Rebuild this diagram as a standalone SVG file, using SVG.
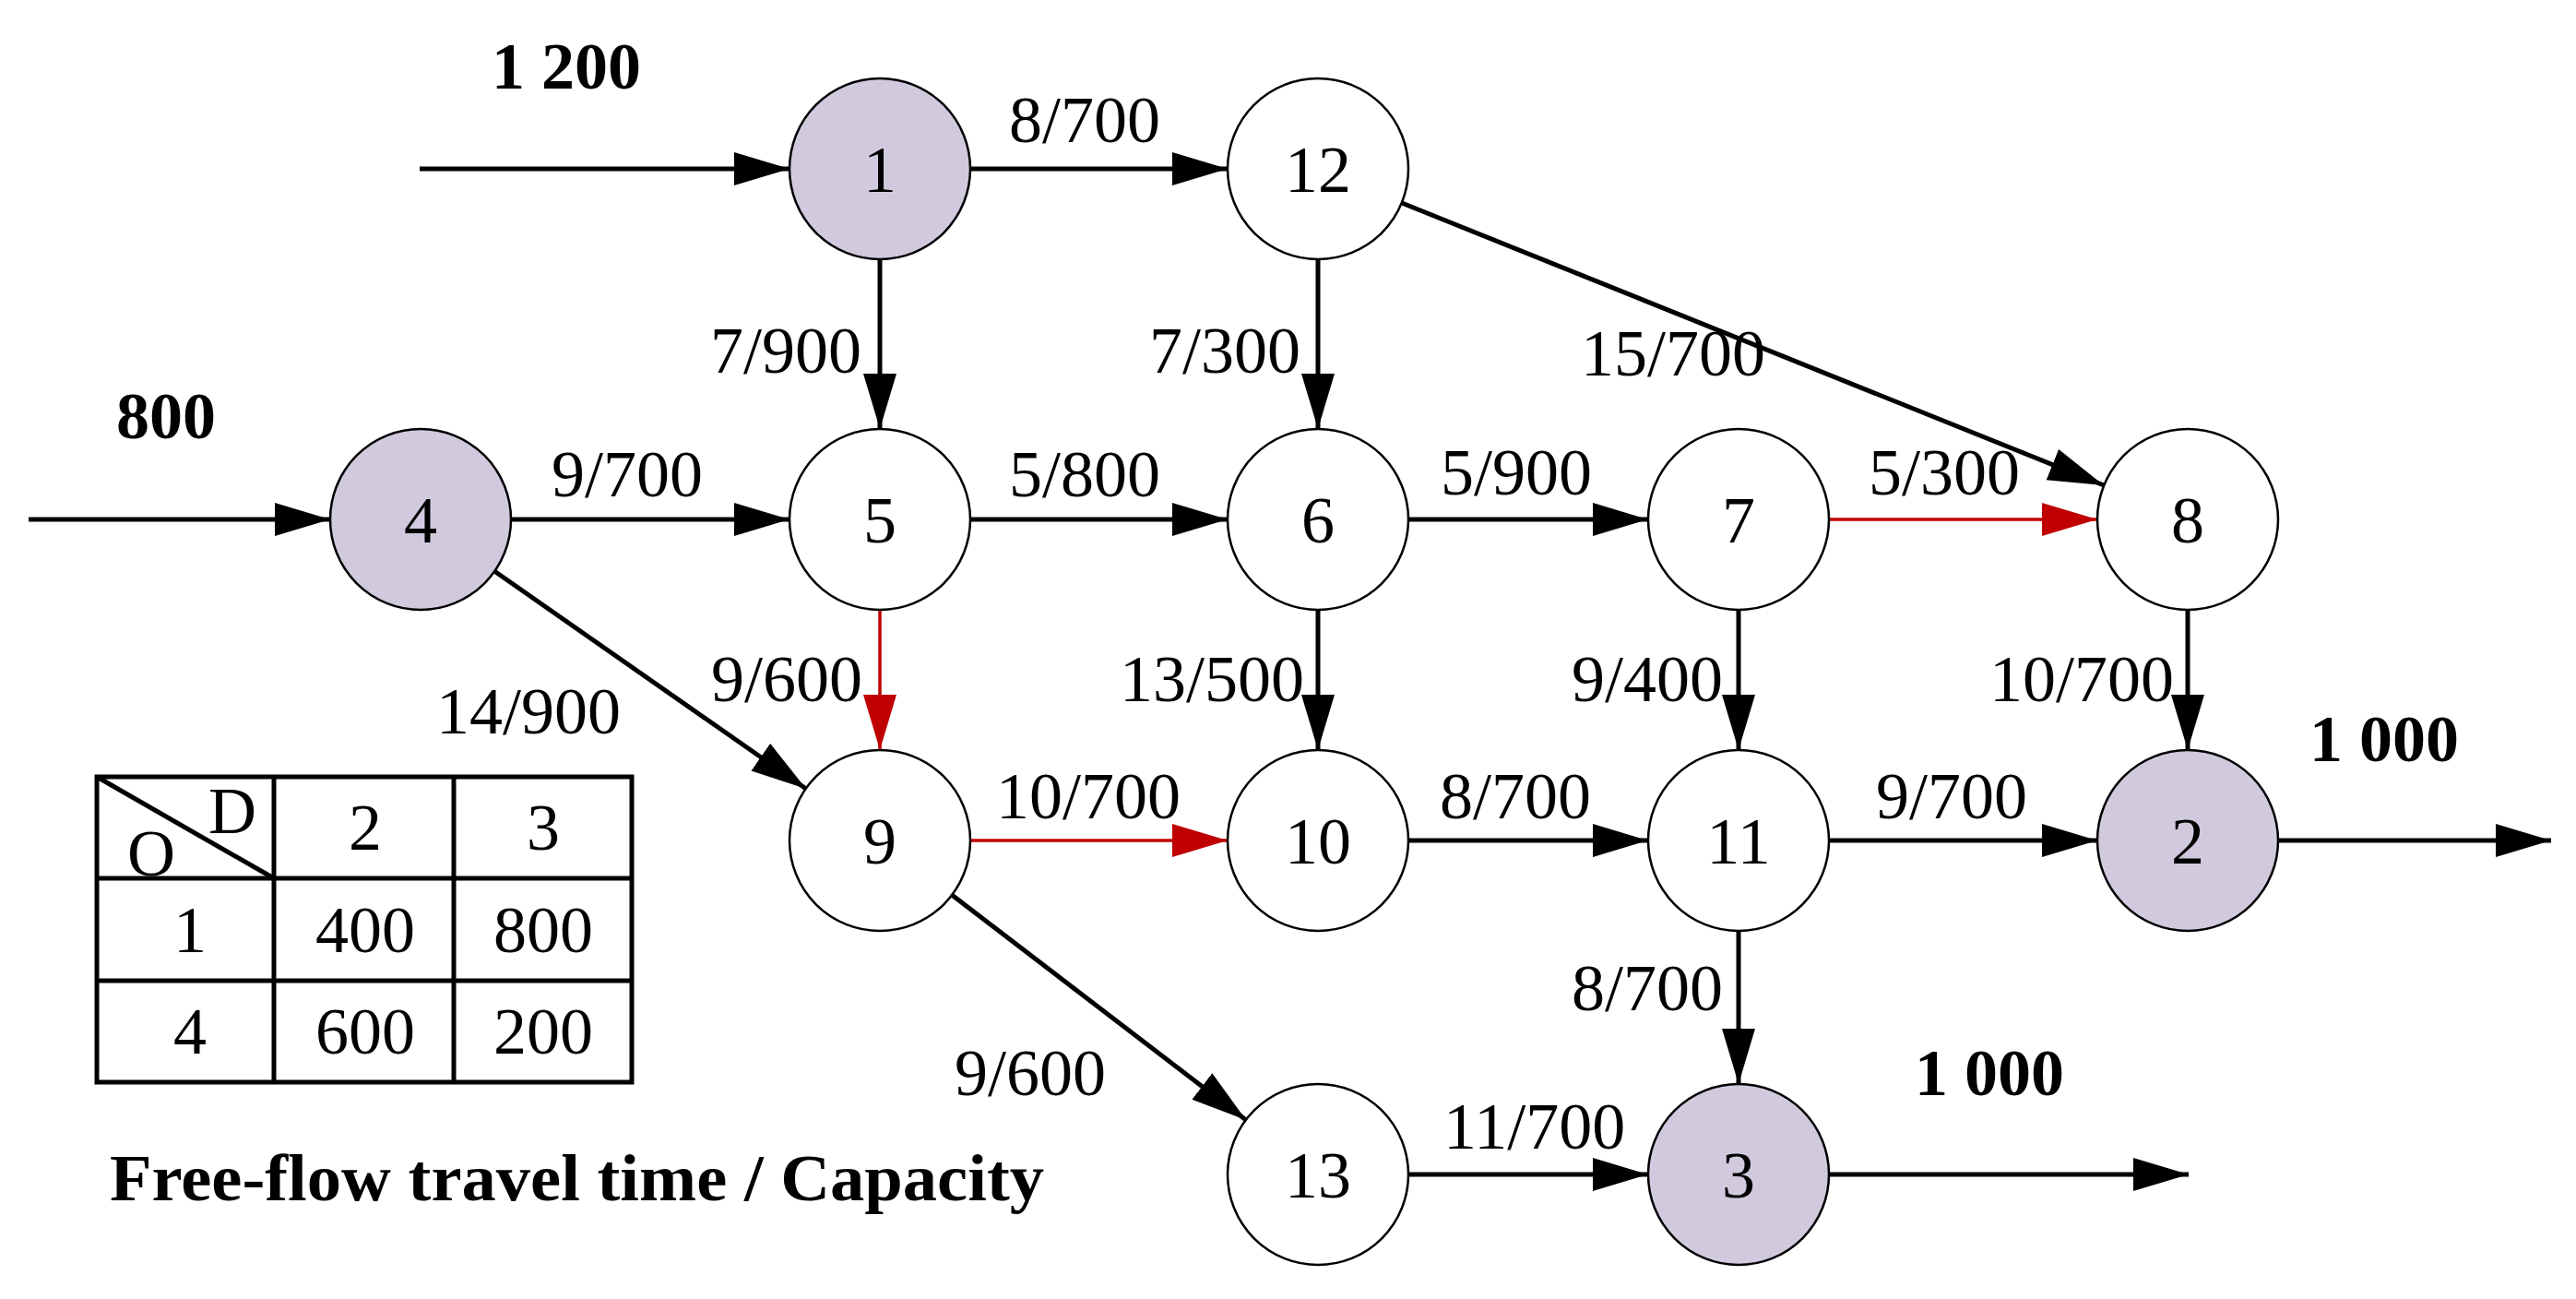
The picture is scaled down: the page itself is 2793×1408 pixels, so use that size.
<svg xmlns="http://www.w3.org/2000/svg" width="2793" height="1408" viewBox="0 0 2793 1408">
<style>
.n{fill:#fff;stroke:#000;stroke-width:2.5}
.o{fill:#d1cadf;stroke:#000;stroke-width:2.5}
.t{font-family:"Liberation Serif","Times New Roman",serif;font-size:72px;fill:#000}
.c{text-anchor:middle}
.b{font-weight:bold}
.e{stroke:#000;stroke-width:5;fill:none;marker-end:url(#ah)}
.r{stroke:#c00000;stroke-width:3.5;fill:none;marker-end:url(#ahr)}
.g{stroke:#000;stroke-width:5;fill:none}
</style>
<defs>
<marker id="ah" markerUnits="userSpaceOnUse" markerWidth="62" markerHeight="40" refX="60" refY="18" orient="auto"><path d="M0,0 L60,18 L0,36 Z" fill="#000"/></marker>
<marker id="ahr" markerUnits="userSpaceOnUse" markerWidth="62" markerHeight="40" refX="60" refY="18" orient="auto"><path d="M0,0 L60,18 L0,36 Z" fill="#c00000"/></marker>
</defs>
<rect width="2793" height="1408" fill="#fff"/>
<g id="connectors">
<line class="e" x1="455" y1="183" x2="856" y2="183"/>
<line class="e" x1="31" y1="563" x2="358" y2="563"/>
<line class="e" x1="2470" y1="911" x2="2766" y2="911"/>
<line class="e" x1="1983" y1="1273" x2="2373" y2="1273"/>
<line class="e" x1="1052" y1="183" x2="1331" y2="183"/>
<line class="e" x1="954" y1="281" x2="954" y2="465"/>
<line class="e" x1="1429" y1="281" x2="1429" y2="465"/>
<line class="e" x1="1520" y1="220" x2="2281" y2="526"/>
<line class="e" x1="554" y1="563" x2="856" y2="563"/>
<line class="e" x1="1052" y1="563" x2="1331" y2="563"/>
<line class="e" x1="1527" y1="563" x2="1787" y2="563"/>
<line class="r" x1="1983" y1="563" x2="2274" y2="563"/>
<line class="r" x1="954" y1="661" x2="954" y2="813"/>
<line class="e" x1="1429" y1="661" x2="1429" y2="813"/>
<line class="e" x1="1885" y1="661" x2="1885" y2="813"/>
<line class="e" x1="2372" y1="661" x2="2372" y2="813"/>
<line class="e" x1="536" y1="619" x2="874" y2="855"/>
<line class="r" x1="1052" y1="911" x2="1331" y2="911"/>
<line class="e" x1="1527" y1="911" x2="1787" y2="911"/>
<line class="e" x1="1983" y1="911" x2="2274" y2="911"/>
<line class="e" x1="1885" y1="1009" x2="1885" y2="1175"/>
<line class="e" x1="1032" y1="970" x2="1351" y2="1214"/>
<line class="e" x1="1527" y1="1273" x2="1787" y2="1273"/>
</g>
<g id="n1"><circle class="o" cx="954" cy="183" r="98"/><text class="t c" x="954" y="208">1</text></g>
<g id="n12"><circle class="n" cx="1429" cy="183" r="98"/><text class="t c" x="1429" y="208">12</text></g>
<g id="n4"><circle class="o" cx="456" cy="563" r="98"/><text class="t c" x="456" y="588">4</text></g>
<g id="n5"><circle class="n" cx="954" cy="563" r="98"/><text class="t c" x="954" y="588">5</text></g>
<g id="n6"><circle class="n" cx="1429" cy="563" r="98"/><text class="t c" x="1429" y="588">6</text></g>
<g id="n7"><circle class="n" cx="1885" cy="563" r="98"/><text class="t c" x="1885" y="588">7</text></g>
<g id="n8"><circle class="n" cx="2372" cy="563" r="98"/><text class="t c" x="2372" y="588">8</text></g>
<g id="n9"><circle class="n" cx="954" cy="911" r="98"/><text class="t c" x="954" y="936">9</text></g>
<g id="n10"><circle class="n" cx="1429" cy="911" r="98"/><text class="t c" x="1429" y="936">10</text></g>
<g id="n11"><circle class="n" cx="1885" cy="911" r="98"/><text class="t c" x="1885" y="936">11</text></g>
<g id="n2"><circle class="o" cx="2372" cy="911" r="98"/><text class="t c" x="2372" y="936">2</text></g>
<g id="n13"><circle class="n" cx="1429" cy="1273" r="98"/><text class="t c" x="1429" y="1298">13</text></g>
<g id="n3"><circle class="o" cx="1885" cy="1273" r="98"/><text class="t c" x="1885" y="1298">3</text></g>
<g id="labels">
<text class="t b" x="533" y="96">1 200</text>
<text class="t b" x="126" y="475">800</text>
<text class="t b" x="2504" y="825">1 000</text>
<text class="t b" x="2076" y="1187">1 000</text>
<text class="t" x="1094" y="154">8/700</text>
<text class="t" x="770" y="404">7/900</text>
<text class="t" x="1246" y="404">7/300</text>
<text class="t" x="1714" y="407">15/700</text>
<text class="t" x="598" y="538">9/700</text>
<text class="t" x="1094" y="538">5/800</text>
<text class="t" x="1562" y="536">5/900</text>
<text class="t" x="2026" y="536">5/300</text>
<text class="t" x="771" y="760">9/600</text>
<text class="t" x="1214" y="760">13/500</text>
<text class="t" x="1704" y="760">9/400</text>
<text class="t" x="2157" y="760">10/700</text>
<text class="t" x="473" y="795">14/900</text>
<text class="t" x="1080" y="887">10/700</text>
<text class="t" x="1561" y="887">8/700</text>
<text class="t" x="2034" y="887">9/700</text>
<text class="t" x="1704" y="1095">8/700</text>
<text class="t" x="1035" y="1187">9/600</text>
<text class="t" x="1565" y="1245">11/700</text>
<text class="t b" x="119" y="1301" textLength="1013" lengthAdjust="spacingAndGlyphs">Free-flow travel time / Capacity</text>
</g>
<g id="table">
<rect class="g" x="105" y="842" width="580" height="331"/>
<line class="g" x1="297" y1="842" x2="297" y2="1173"/>
<line class="g" x1="492" y1="842" x2="492" y2="1173"/>
<line class="g" x1="105" y1="952" x2="685" y2="952"/>
<line class="g" x1="105" y1="1063" x2="685" y2="1063"/>
<line class="g" x1="105" y1="842" x2="297" y2="952"/>
<text class="t c" x="252" y="903">D</text>
<text class="t c" x="164" y="949">O</text>
<text class="t c" x="396" y="921">2</text>
<text class="t c" x="589" y="921">3</text>
<text class="t c" x="206" y="1032">1</text>
<text class="t c" x="396" y="1032">400</text>
<text class="t c" x="589" y="1032">800</text>
<text class="t c" x="206" y="1142">4</text>
<text class="t c" x="396" y="1142">600</text>
<text class="t c" x="589" y="1142">200</text>
</g>
</svg>
